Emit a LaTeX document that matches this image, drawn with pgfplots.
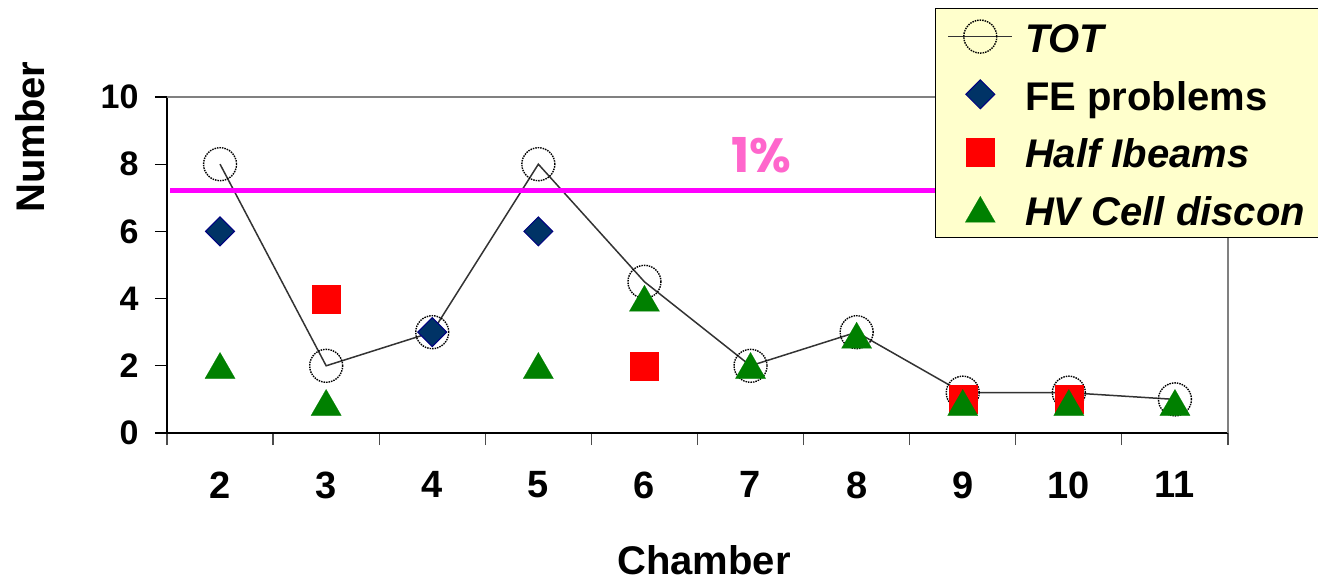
\documentclass[border=0pt]{standalone}
\usepackage{pgfplots}
\pgfplotsset{compat=1.18}
\usepackage{fontspec}
\setmainfont{Liberation Sans}
\newfontfamily\pctfont{Poppins}
\definecolor{legfill}{HTML}{FFFFCC}
\definecolor{fenavy}{HTML}{003366}
\definecolor{feedge}{HTML}{000080}
\definecolor{hvgreen}{HTML}{008000}
\definecolor{halfred}{HTML}{FF0000}
\definecolor{totline}{HTML}{333333}
\definecolor{pctpink}{HTML}{FF66CC}
\definecolor{linemag}{HTML}{FF00FF}
\definecolor{framegray}{HTML}{808080}
\begin{document}
\begin{tikzpicture}
\path[use as bounding box] (-167pt,-150pt) rectangle (1151pt,433pt);
\begin{axis}[
  at={(0pt,0pt)}, anchor=south west,
  scale only axis, width=1061pt, height=336pt,
  xmin=1.5, xmax=11.5, ymin=0, ymax=10,
  xtick={2,3,4,5,6,7,8,9,10,11},
  ytick={0,2,4,6,8,10},
  minor xtick={1.5,2.5,3.5,4.5,5.5,6.5,7.5,8.5,9.5,10.5,11.5},
  tick pos=left, tick align=outside,
  major tick length=12pt, minor tick length=12pt,
  every major x tick/.style={draw=none},
  every minor x tick/.style={draw=black!70, line width=1.2pt},
  every major y tick/.style={draw=black, line width=1.2pt},
  axis line style={draw=none},
  /pgf/number format/assume math mode=true,
  xticklabel style={font=\fontsize{38}{38}\selectfont\bfseries, yshift=-23pt},
  yticklabel style={font=\fontsize{34}{34}\selectfont\bfseries, xshift=-13pt},
  clip=false,
  legend style={at={(0.7238,1.2649)}, anchor=north west,
    fill=legfill, draw=black, line width=1.2pt,
    inner xsep=12pt, inner ysep=2pt, row sep=5.7pt, column sep=11pt,
    nodes={inner sep=1pt, text height=41pt, text depth=9pt,
      font=\fontsize{40}{40}\selectfont\bfseries}},
  legend cell align=left,
  legend image code/.code={\draw[mark repeat=2,mark phase=2] plot coordinates {(0pt,0pt) (32pt,0pt) (64pt,0pt)};},
]
\draw[black, line width=1.5pt] (rel axis cs:0,1) -- (rel axis cs:0,0) -- (rel axis cs:1,0);
\draw[framegray, line width=1.5pt] (rel axis cs:0,1) -- (rel axis cs:1,1) -- (rel axis cs:1,0);

\addplot[color=totline, line width=1.5pt, mark=o, mark size=16.5pt,
  mark options={draw=black, fill=none, line width=1.4pt, dash pattern=on 1.5pt off 1pt}]
  coordinates {(2,8) (3,2) (4,3) (5,8) (6,4.5) (7,2) (8,3) (9,1.2) (10,1.2) (11,1)};
\addlegendentry{{\itshape TOT}}

\addplot[only marks, mark=square*, mark size=10.25pt,
  mark options={rotate=45, fill=fenavy, draw=feedge, line width=1pt}]
  coordinates {(2,6) (4,3) (5,6)};
\addlegendentry{FE problems}

\addplot[only marks, mark=square*, mark size=14pt,
  mark options={fill=halfred, draw=halfred, line width=0.1pt}]
  coordinates {(3,4) (6,2) (9,1) (10,1)};
\addlegendentry{{\itshape Half Ibeams}}

\addplot[only marks, mark=triangle*, mark size=17.5pt,
  mark options={fill=hvgreen, draw=hvgreen, line width=0.1pt, yshift=-4pt}]
  coordinates {(2,2) (3,0.9) (5,2) (6,4) (7,2) (8,2.9) (9,0.9) (10,0.9) (11,0.9)};
\addlegendentry{{\itshape HV Cell discon}}

\addplot[linemag, line width=5pt, forget plot] coordinates {(1.53,7.23) (8.79,7.23)};

\node[text=pctpink, font=\pctfont\bfseries\fontsize{48}{48}\selectfont] at (axis cs:7.098,8.27) {1\%};
\end{axis}
\node[rotate=90, font=\fontsize{40}{40}\selectfont\bfseries] at (-137pt,296pt) {Number};
\node[font=\fontsize{40}{40}\selectfont\bfseries] at (537pt,-127pt) {Chamber};
\end{tikzpicture}
\end{document}
